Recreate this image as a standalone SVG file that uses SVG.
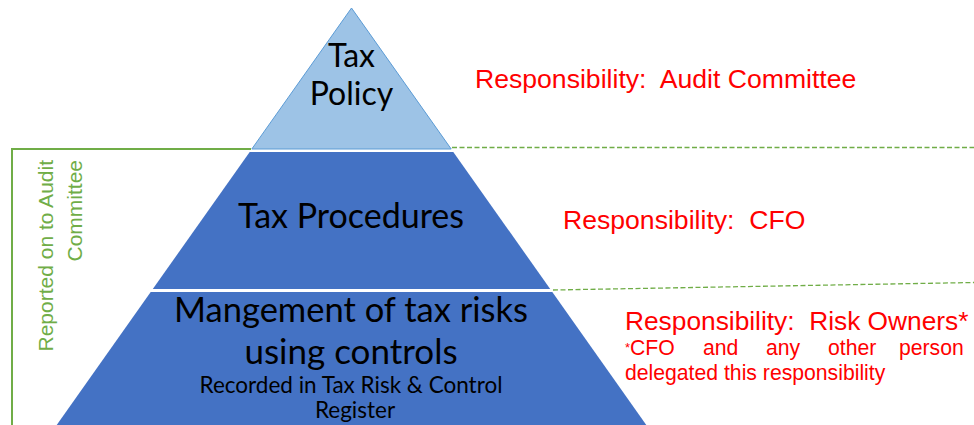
<svg xmlns="http://www.w3.org/2000/svg" width="974" height="425" viewBox="0 0 974 425">
<style>
.tier-top{fill:#9DC3E6;stroke:#5B9BD5;stroke-width:1}
.tier{fill:#4472C4;stroke:none}
.lbl{font-family:Lato,"Liberation Sans",sans-serif;fill:#000;text-anchor:middle}
.resp{font-family:"Liberation Sans",Arial,sans-serif;fill:#FF0000;white-space:pre}
.green{font-family:"Liberation Sans",Arial,sans-serif;fill:#70AD47;font-size:21px;text-anchor:end}
.solid{stroke:#70AD47;stroke-width:2;fill:none}
.dash{stroke:#70AD47;stroke-width:1.3;stroke-dasharray:5 2.5;fill:none}
</style>
<rect width="974" height="425" fill="#fff"/>
<g id="connectors">
  <polyline class="solid" points="251,149 12,149 12,425"/>
  <line class="dash" x1="452" y1="147.5" x2="974" y2="147.5"/>
  <line class="dash" x1="553" y1="290" x2="974" y2="282.5"/>
</g>
<g id="tax-policy">
  <polygon class="tier-top" points="351.5,8 451.2,149 251.8,149"/>
  <text class="lbl" x="351.5" y="67" font-size="32">Tax</text>
  <text class="lbl" x="351.5" y="105" font-size="32">Policy</text>
</g>
<g id="tax-procedures">
  <polygon class="tier" points="249.7,152 453.3,152 550.2,289 152.8,289"/>
  <text class="lbl" x="351" y="228" font-size="34">Tax Procedures</text>
</g>
<g id="tax-risks">
  <polygon class="tier" points="150.7,292 552.3,292 646.3,425 56.7,425"/>
  <text class="lbl" x="351" y="322" font-size="34.5">Mangement of tax risks</text>
  <text class="lbl" x="351" y="364" font-size="35">using controls</text>
  <text class="lbl" x="351" y="393" font-size="22.5">Recorded in Tax Risk &amp; Control</text>
  <text class="lbl" x="355" y="418" font-size="22.5">Register</text>
</g>
<g id="reported-label">
  <text class="green" transform="translate(53,160) rotate(-90)">Reported on to Audit</text>
  <text class="green" transform="translate(82,160) rotate(-90)">Committee</text>
</g>
<g id="resp-audit">
  <text class="resp" x="475" y="88" font-size="26.6">Responsibility:  Audit Committee</text>
</g>
<g id="resp-cfo">
  <text class="resp" x="563" y="229" font-size="26.6">Responsibility:  CFO</text>
</g>
<g id="resp-owners">
  <text class="resp" x="625" y="330" font-size="26.3">Responsibility:  Risk Owners*</text>
  <text class="resp" y="355" font-size="21.2"><tspan x="625" font-size="13" dy="-3">*</tspan><tspan dy="3">CFO</tspan><tspan x="703">and</tspan><tspan x="766">any</tspan><tspan x="828">other</tspan><tspan x="899">person</tspan></text>
  <text class="resp" x="625" y="380" font-size="21.2">delegated this responsibility</text>
</g>
</svg>
